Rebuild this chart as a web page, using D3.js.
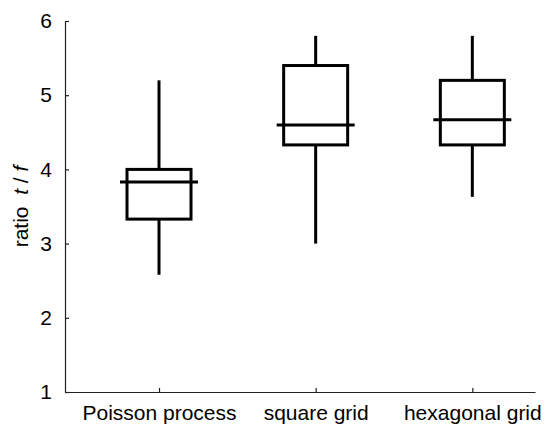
<!DOCTYPE html>
<html>
<head>
<meta charset="utf-8">
<script src="https://cdn.jsdelivr.net/npm/d3@7"></script>
<style>
  body { margin: 0; background: #fff; }
  text { font-family: "Liberation Sans", Arial, sans-serif; }
</style>
</head>
<body>
<div id="chart"></div>
<script>
// box plot data
const categories = ['Poisson process', 'square grid', 'hexagonal grid'];
const whiskerLow = [2.58, 3.0, 3.63];
const boxLow = [3.33, 4.33, 4.33];
const medians = [3.83, 4.6, 4.67];
const boxHigh = [4.0, 5.4, 5.2];
const whiskerHigh = [5.2, 5.8, 5.8];
const yTicks = [1, 2, 3, 4, 5, 6];

const width = 545, height = 425;
const margin = { top: 21, right: 10, bottom: 33, left: 65 };

const svg = d3.select('#chart')
    .append('svg')
    .attr('width', width)
    .attr('height', height);

// x positions 1..3 with the axis running from 0.4 to 3.4
const x = d3.scaleLinear()
    .domain([0.4, 3.4])
    .range([margin.left, width - margin.right]);

const y = d3.scaleLinear()
    .domain([1, 6])
    .range([height - margin.bottom, margin.top]);

// axes, ticks pointing inward
const yAxis = svg.append('g')
    .attr('transform', `translate(${margin.left},0)`)
    .call(d3.axisLeft(y).tickValues(yTicks).tickFormat(d3.format('d'))
        .tickSizeInner(-4).tickSizeOuter(0).tickPadding(13));

const xAxis = svg.append('g')
    .attr('transform', `translate(0,${height - margin.bottom})`)
    .call(d3.axisBottom(x).tickValues([1, 2, 3]).tickFormat((d, i) => categories[i])
        .tickSizeInner(-4).tickSizeOuter(0).tickPadding(13));

[xAxis, yAxis].forEach(ax => {
    ax.select('.domain').attr('stroke', '#222').attr('stroke-width', 1.2);
    ax.selectAll('.tick line').attr('stroke', '#222').attr('stroke-width', 1.2);
    ax.selectAll('.tick text').attr('fill', '#000').attr('font-size', '21px')
        .attr('font-family', '"Liberation Sans", Arial, sans-serif');
});

// y label: "ratio  t / f"
const ylab = svg.append('text')
    .attr('transform', `translate(28,${(margin.top + height - margin.bottom) / 2}) rotate(-90)`)
    .attr('text-anchor', 'middle')
    .attr('font-size', '21px')
    .attr('fill', '#000');
ylab.append('tspan').text('ratio\u00a0\u00a0');
ylab.append('tspan').attr('font-style', 'italic').text('t');
ylab.append('tspan').text(' / ');
ylab.append('tspan').attr('font-style', 'italic').text('f');

// boxes
const boxHalf = 32, medHalf = 39;
const data = categories.map((c, i) => ({
    pos: i + 1,
    wl: whiskerLow[i], q1: boxLow[i], med: medians[i], q3: boxHigh[i], wh: whiskerHigh[i]
}));

const g = svg.append('g')
    .attr('stroke', '#000')
    .attr('stroke-width', 3)
    .attr('fill', 'none');

const box = g.selectAll('g.box')
    .data(data)
    .enter().append('g')
    .attr('class', 'box');

box.append('line')
    .attr('x1', d => x(d.pos)).attr('x2', d => x(d.pos))
    .attr('y1', d => y(d.q3)).attr('y2', d => y(d.wh));

box.append('line')
    .attr('x1', d => x(d.pos)).attr('x2', d => x(d.pos))
    .attr('y1', d => y(d.q1)).attr('y2', d => y(d.wl));

box.append('rect')
    .attr('x', d => x(d.pos) - boxHalf)
    .attr('width', boxHalf * 2)
    .attr('y', d => y(d.q3))
    .attr('height', d => y(d.q1) - y(d.q3));

box.append('line')
    .attr('x1', d => x(d.pos) - medHalf).attr('x2', d => x(d.pos) + medHalf)
    .attr('y1', d => y(d.med)).attr('y2', d => y(d.med));
</script>
</body>
</html>
